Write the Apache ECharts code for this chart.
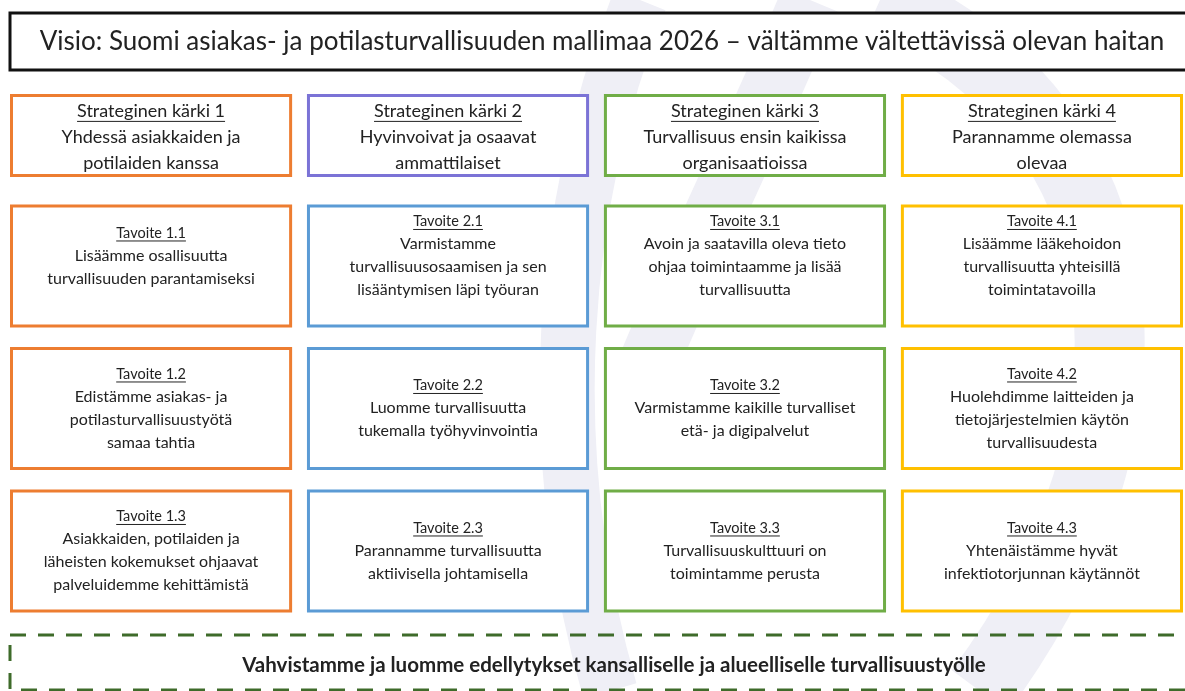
<!DOCTYPE html>
<html>
<head>
<meta charset="utf-8">
<script src="https://cdn.jsdelivr.net/npm/echarts@6/dist/echarts.min.js"></script>
<style>
  html, body { margin: 0; padding: 0; background: #fff; }
  #main { width: 1185px; height: 691px; }
</style>
</head>
<body>
<div id="main"></div>
<script>
// otsikot ja tekstit
const visionText = 'Visio: Suomi asiakas- ja potilasturvallisuuden mallimaa 2026 – vältämme vältettävissä olevan haitan'
const footerText = 'Vahvistamme ja luomme edellytykset kansalliselle ja alueelliselle turvallisuustyölle'

const pillarTitles = ['Strateginen kärki 1', 'Strateginen kärki 2', 'Strateginen kärki 3', 'Strateginen kärki 4']
const pillarTexts = [
  'Yhdessä asiakkaiden ja\npotilaiden kanssa',
  'Hyvinvoivat ja osaavat\nammattilaiset',
  'Turvallisuus ensin kaikissa\norganisaatioissa',
  'Parannamme olemassa\nolevaa'
]

const goalCodes = [
  'Tavoite 1.1', 'Tavoite 1.2', 'Tavoite 1.3',
  'Tavoite 2.1', 'Tavoite 2.2', 'Tavoite 2.3',
  'Tavoite 3.1', 'Tavoite 3.2', 'Tavoite 3.3',
  'Tavoite 4.1', 'Tavoite 4.2', 'Tavoite 4.3'
]
const goalTexts = [
  'Lisäämme osallisuutta\nturvallisuuden parantamiseksi',
  'Edistämme asiakas- ja\npotilasturvallisuustyötä\nsamaa tahtia',
  'Asiakkaiden, potilaiden ja\nläheisten kokemukset ohjaavat\npalveluidemme kehittämistä',
  'Varmistamme\nturvallisuusosaamisen ja sen\nlisääntymisen läpi työuran',
  'Luomme turvallisuutta\ntukemalla työhyvinvointia',
  'Parannamme turvallisuutta\naktiivisella johtamisella',
  'Avoin ja saatavilla oleva tieto\nohjaa toimintaamme ja lisää\nturvallisuutta',
  'Varmistamme kaikille turvalliset\netä- ja digipalvelut',
  'Turvallisuuskulttuuri on\ntoimintamme perusta',
  'Lisäämme lääkehoidon\nturvallisuutta yhteisillä\ntoimintatavoilla',
  'Huolehdimme laitteiden ja\ntietojärjestelmien käytön\nturvallisuudesta',
  'Yhtenäistämme hyvät\ninfektiotorjunnan käytännöt'
]
const goalRows = ['x.1', 'x.2', 'x.3']

const pillarColors = ['#ED7D31', '#7B73D6', '#70AD47', '#FFC000']
const goalColors = ['#ED7D31', '#5B9BD5', '#70AD47', '#FFC000']

const FONT = 'Lato, "Liberation Sans", sans-serif'
const TEXT = '#222'
const BOX_W = 0.95 // osuus sarakevälistä

let measureCtx = document.createElement('canvas').getContext('2d')
function textWidth (txt, font) {
  measureCtx.font = font
  return measureCtx.measureText(txt).width
}

// otsikkorivi + alleviivaus + rivit
function textBlock (cx, cy, head, headFont, headSize, headLH, body, bodyFont, bodyLH) {
  let lines = body.split('\n')
  let total = headLH + lines.length * bodyLH
  let y = cy - total / 2 + headLH / 2
  let w = textWidth(head, headFont)
  let out = [
    { type: 'text', style: { text: head, x: cx, y: y, font: headFont, fill: TEXT, align: 'center', verticalAlign: 'middle' } },
    { type: 'line', shape: { x1: cx - w / 2, y1: y + headSize * 0.55, x2: cx + w / 2, y2: y + headSize * 0.55 }, style: { stroke: TEXT, lineWidth: 1 } }
  ]
  y += headLH / 2 + bodyLH / 2
  lines.forEach(l => {
    out.push({ type: 'text', style: { text: l, x: cx, y: y, font: bodyFont, fill: TEXT, align: 'center', verticalAlign: 'middle' } })
    y += bodyLH
  })
  return out
}

function renderPillar (params, api) {
  let i = api.value(0)
  let c = api.coord([i, 0])
  let x1 = api.coord([i + BOX_W, 0])[0]
  let h = api.size([0, 1])[1]
  let x0 = c[0]
  let cx = (x0 + x1) / 2
  let children = [{
    type: 'rect',
    shape: { x: x0 + 1.5, y: c[1] - h / 2 + 1.5, width: x1 - x0 - 3, height: h - 3 },
    style: { fill: '#fff', stroke: pillarColors[i], lineWidth: 3 }
  }]
  children = children.concat(textBlock(cx, c[1] + 2, pillarTitles[i], '18px ' + FONT, 18, 26,
    pillarTexts[i], '18px ' + FONT, 26))
  return { type: 'group', children: children }
}

function renderGoal (params, api) {
  let col = api.value(0)
  let row = api.value(1)
  let c = api.coord([col, row])
  let x1 = api.coord([col + BOX_W, row])[0]
  let x0 = c[0]
  let bh = 123
  let cx = (x0 + x1) / 2
  let shift = row === 0 ? -10 : 0
  let k = params.dataIndex
  let children = [{
    type: 'rect',
    shape: { x: x0 + 1.5, y: c[1] - bh / 2 + 1.5, width: x1 - x0 - 3, height: bh - 3 },
    style: { fill: '#fff', stroke: goalColors[col], lineWidth: 3 }
  }]
  children = children.concat(textBlock(cx, c[1] + shift, goalCodes[k], '14.5px ' + FONT, 14.5, 22,
    goalTexts[k], '16px ' + FONT, 23))
  return { type: 'group', children: children }
}

let goalData = goalCodes.map(code => {
  let parts = code.replace('Tavoite ', '').split('.')
  return [Number(parts[0]) - 1, Number(parts[1]) - 1]
})

let wm = { fill: null, stroke: '#EFEFF6' }

let myChart = echarts.init(document.getElementById('main'))
myChart.setOption({
  backgroundColor: '#fff',
  animation: false,
  grid: [
    { left: 10, width: 1173, top: 94, height: 83 },
    { left: 10, width: 1173, top: 194.75, height: 427.5 }
  ],
  xAxis: [
    { type: 'value', gridIndex: 0, min: 0, max: 3.95, show: false },
    { type: 'value', gridIndex: 1, min: 0, max: 3.95, show: false }
  ],
  yAxis: [
    { type: 'category', gridIndex: 0, data: ['kärki'], inverse: true, show: false },
    { type: 'category', gridIndex: 1, data: goalRows, inverse: true, show: false }
  ],
  graphic: [
    // vaalea taustakuvio
    { type: 'bezierCurve', z: 0, silent: true, shape: { x1: 640, y1: 0, cpx1: 560, cpy1: 200, cpx2: 540, cpy2: 450, x2: 610, y2: 691 }, style: Object.assign({ lineWidth: 55 }, wm) },
    { type: 'bezierCurve', z: 0, silent: true, shape: { x1: 810, y1: 0, cpx1: 760, cpy1: 120, cpx2: 700, cpy2: 240, x2: 650, y2: 360 }, style: Object.assign({ lineWidth: 60 }, wm) },
    { type: 'bezierCurve', z: 0, silent: true, shape: { x1: 880, y1: 0, cpx1: 1150, cpy1: 120, cpx2: 1180, cpy2: 420, x2: 980, y2: 691 }, style: Object.assign({ lineWidth: 70 }, wm) },
    // visio
    { type: 'rect', z: 5, shape: { x: 10, y: 13, width: 1190, height: 57 }, style: { fill: '#fff', stroke: '#111', lineWidth: 3 } },
    { type: 'text', z: 6, style: { text: visionText, x: 602, y: 42, font: '26px ' + FONT, fill: TEXT, align: 'center', verticalAlign: 'middle' } },
    // alaosa
    { type: 'rect', z: 5, shape: { x: 10, y: 635, width: 1190, height: 55 }, style: { fill: null, stroke: '#3E6B2A', lineWidth: 3, lineDash: [16, 12] } },
    { type: 'text', z: 6, style: { text: footerText, x: 614, y: 665, font: 'bold 20.5px ' + FONT, fill: TEXT, align: 'center', verticalAlign: 'middle' } }
  ],
  series: [
    {
      type: 'custom',
      xAxisIndex: 0,
      yAxisIndex: 0,
      renderItem: renderPillar,
      data: pillarTitles.map((t, i) => [i, 0])
    },
    {
      type: 'custom',
      xAxisIndex: 1,
      yAxisIndex: 1,
      renderItem: renderGoal,
      data: goalData
    }
  ]
})
</script>
</body>
</html>
